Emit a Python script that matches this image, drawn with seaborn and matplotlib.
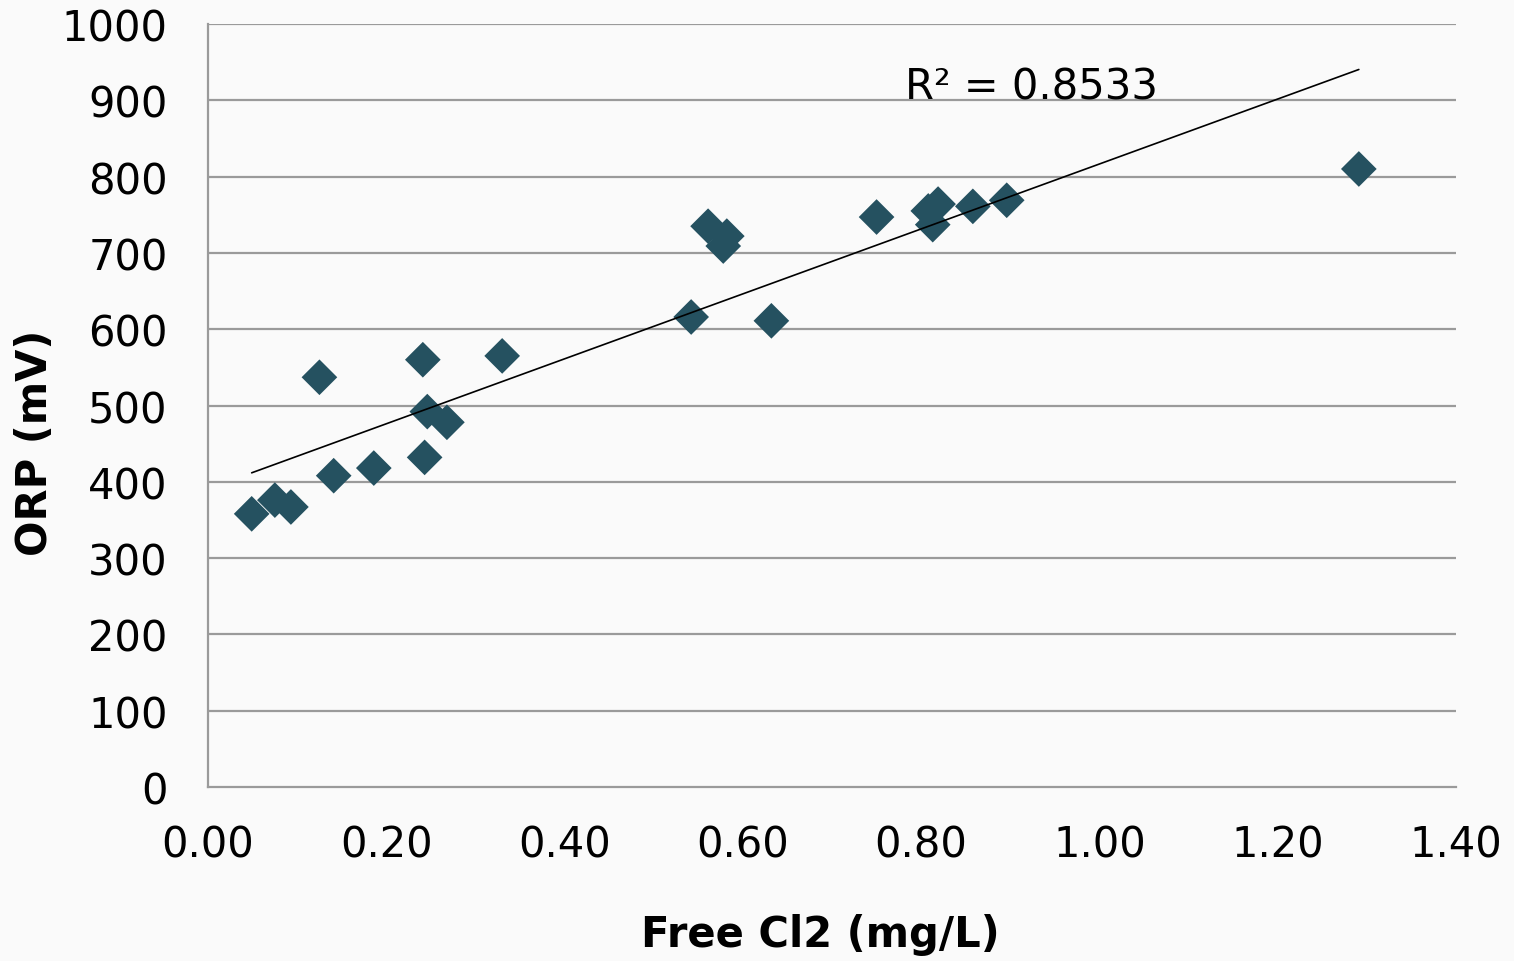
import numpy as np
import pandas as pd
import matplotlib
matplotlib.use("Agg")
import matplotlib.pyplot as plt
import seaborn as sns

# Free chlorine (mg/L) and ORP (mV) measurements
free_cl2 = [0.049, 0.075, 0.093, 0.125, 0.141, 0.186, 0.241, 0.243, 0.246, 0.268,
            0.330, 0.542, 0.561, 0.582, 0.578, 0.632, 0.750, 0.808, 0.813, 0.819,
            0.858, 0.896, 1.291]
orp_mv = [358, 376, 367, 537, 408, 418, 560, 432, 492, 478,
          565, 616, 735, 722, 709, 611, 747, 755, 737, 764,
          761, 769, 810]

x_ticks = [0.0, 0.2, 0.4, 0.6, 0.8, 1.0, 1.2, 1.4]
y_ticks = [0, 100, 200, 300, 400, 500, 600, 700, 800, 900, 1000]
r2_label = "R² = 0.8533"

df = pd.DataFrame({"cl2": free_cl2, "orp": orp_mv})

sns.set_style("white")
plt.rcParams["font.family"] = ["DejaVu Sans"]

bg = "#fafafa"
grid_c = "#9a9a9a"
marker_c = "#255160"

fig = plt.figure(figsize=(15.14, 9.62), dpi=100, facecolor=bg)
ax = fig.add_axes([208 / 1514, 1 - 788 / 962, (1456 - 208) / 1514, (788 - 25) / 962])
ax.set_facecolor(bg)

# horizontal gridlines
for yv in y_ticks[1:]:
    ax.axhline(yv, color=grid_c, lw=1.6, zorder=0)

sns.scatterplot(data=df, x="cl2", y="orp", marker="D", s=330, color=marker_c,
                edgecolor="none", linewidth=0, ax=ax, zorder=3)

# linear trendline
slope, intercept = np.polyfit(df["cl2"], df["orp"], 1)
xs = np.array([df["cl2"].min(), df["cl2"].max()])
ax.plot(xs, slope * xs + intercept, color="black", lw=1.2, zorder=4)

ax.text(0.782, 902, r2_label, fontsize=30, color="black", ha="left", va="baseline")

ax.set_xlim(0, 1.4)
ax.set_ylim(0, 1000)
ax.set_xticks(x_ticks)
ax.set_xticklabels([f"{v:.2f}" for v in x_ticks])
ax.set_yticks(y_ticks)
ax.set_yticklabels([str(v) for v in y_ticks])

for side in ["top", "right"]:
    ax.spines[side].set_visible(False)
for side in ["left", "bottom"]:
    ax.spines[side].set_color(grid_c)
    ax.spines[side].set_linewidth(1.6)

ax.tick_params(axis="both", which="major", direction="out", length=11, width=1.6,
               color=grid_c, labelsize=30, labelcolor="black")
ax.tick_params(axis="y", pad=18)
ax.tick_params(axis="x", pad=15)

ax.set_xlabel("Free Cl2 (mg/L)", fontsize=30, fontweight="bold", color="black")
ax.set_ylabel("ORP (mV)", fontsize=30, fontweight="bold", color="black")
ax.xaxis.set_label_coords(0.491, -0.193)
ax.yaxis.set_label_coords(-0.139, 0.453)
ax.xaxis.label.set_va("center")
ax.yaxis.label.set_va("center")

fig.savefig("out.png", dpi=100, facecolor=bg)
